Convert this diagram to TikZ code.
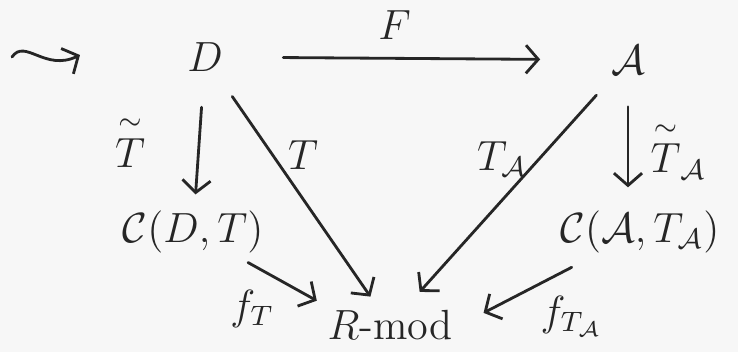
\documentclass[tikz,border=0pt]{standalone}
\usepackage{amsmath,amssymb}
\usetikzlibrary{arrows.meta}

\begin{document}
\begin{tikzpicture}[
  x=0.01cm, y=-0.01cm,
  font=\large,
  obj/.style={inner sep=2pt, text=black!85},
  lbl/.style={inner sep=2pt, text=black!85},
  mor/.style={-{Straight Barb[length=3.5pt,width=8pt]}, draw=black!85,
              line width=0.8pt, line cap=round}
]
\useasboundingbox[fill=black!3] (0,0) rectangle (738,352);

% objects
\coordinate (w0) at (12,57);
\coordinate (w1) at (80,55);
\node[obj] (D)  at (205,57)  {$D$};
\node[obj] (A)  at (628,60)  {$\mathcal{A}$};
\node[obj] (CD) at (193,232) {$\mathcal{C}(D,T)$};
\node[obj] (CA) at (640,232) {$\mathcal{C}(\mathcal{A},T_{\mathcal{A}})$};
\node[obj] (R)  at (390,325) {$R\text{-mod}$};

% squiggle
\draw[mor] (w0) .. controls (25,38) and (45,72) .. (w1);

% morphisms
\draw[mor, shorten <=15pt, shorten >=18pt] (D) -- node[lbl, pos=0.44, above=3pt] (lF) {$F$} (A);
\draw[mor, shorten <=8pt, shorten >=2.5pt] (D) -- node[lbl, midway, left=13pt] (lTt) {$\overset{\sim}{T}$} (CD);
\draw[mor, shorten <=6pt, shorten >=2pt] (D) -- node[lbl, pos=0.34, right=2pt] (lT) {$T$} (R);
\draw[mor, shorten <=5pt, shorten >=4pt] (A) -- node[lbl, pos=0.35, left=1pt] (lTA) {$T_{\mathcal{A}}$} (R);
\draw[mor, shorten <=7pt, shorten >=4.5pt] (A) -- node[lbl, pos=0.56, right=4pt] (lTAt) {$\overset{\sim}{T}_{\mathcal{A}}$} (A |- CA.north);
\draw[mor, shorten <=1pt, shorten >=1pt] (CD) -- node[lbl, pos=0.5, below left] (lfT) {$f_T$} (R.north west);
\draw[mor, shorten <=4pt, shorten >=7.5pt] (CA) -- node[lbl, pos=0.42, below right] (lfTA) {$f_{T_{\mathcal{A}}}$} (R.east);
\end{tikzpicture}
\end{document}
